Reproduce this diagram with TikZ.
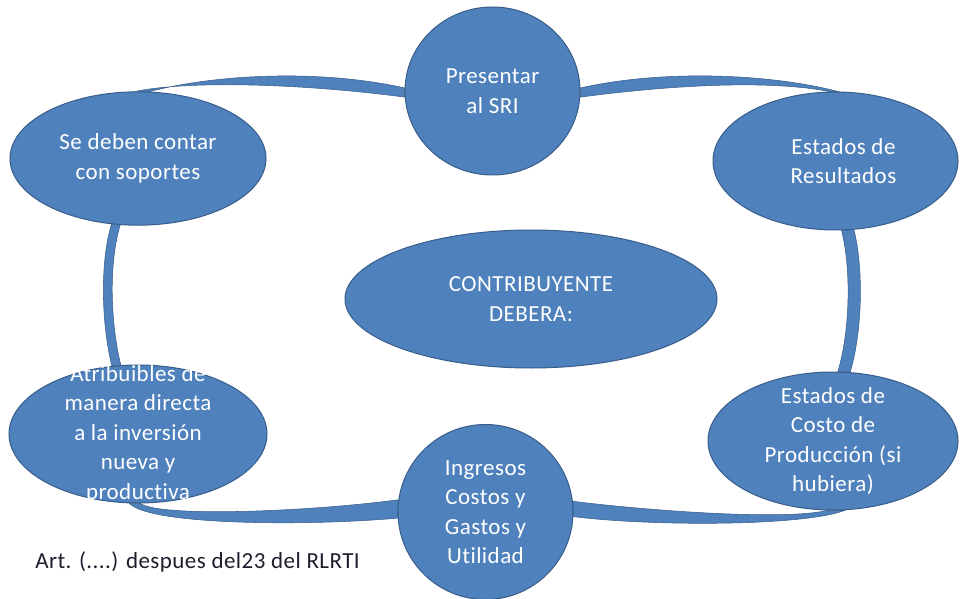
\documentclass[tikz,border=0pt]{standalone}
\usepackage{fontspec}
\setmainfont{Carlito}[LetterSpace=2, Ligatures={NoCommon}]
\usetikzlibrary{shapes.geometric,backgrounds}

\tikzset{every picture/.style={line width=0.75pt}}
\tikzset{
  bub/.style={ellipse, draw={rgb, 255:red, 56; green, 93; blue, 138}, fill={rgb, 255:red, 79; green, 129; blue, 189}, inner sep=0pt},
  lnk/.style={draw={rgb, 255:red, 56; green, 93; blue, 138}, fill={rgb, 255:red, 79; green, 129; blue, 189}},
  txt/.style={text=white, align=center, inner sep=0pt, font=\fontsize{17.25}{22.1}\selectfont},
}

\begin{document}
\begin{tikzpicture}[x=0.75pt,y=0.75pt,yscale=-1,xscale=1]
	\useasboundingbox (0,0) rectangle (960,599);

	%Shape: Ellipse [top]
	\node [bub, minimum width=131.25pt, minimum height=126pt] (pres) at (492.5,91) {};
	%Shape: Ellipse [top left]
	\node [bub, minimum width=192pt, minimum height=100pt] (sop) at (138,158.5) {};
	%Shape: Ellipse [top right]
	\node [bub, minimum width=183.75pt, minimum height=103.5pt] (res) at (835.5,161) {};
	%Shape: Ellipse [centre]
	\node [bub, minimum width=279pt, minimum height=103.5pt] (con) at (531,299) {};
	%Shape: Ellipse [bottom left]
	\node [bub, minimum width=193.5pt, minimum height=103.5pt] (atr) at (138,434) {};
	%Shape: Ellipse [bottom]
	\node [bub, minimum width=131.25pt, minimum height=131.25pt] (ing) at (485.5,512) {};
	%Shape: Ellipse [bottom right]
	\node [bub, minimum width=187.5pt, minimum height=103.5pt] (cost) at (833,441) {};

	\begin{pgfonlayer}{background}
	%Curve Lines [sop - pres]
	\draw [lnk] (sop.80) .. controls +(60,-16) and +(-90,-20) .. (pres.178) -- (pres.184) .. controls +(-90,-12) and +(60,-12) .. (sop.92) -- cycle ;
	%Curve Lines [pres - res]
	\draw [lnk] (pres.2) .. controls +(90,-20) and +(-60,-16) .. (res.88) -- (res.95) .. controls +(-60,-12) and +(90,-12) .. (pres.-4) -- cycle ;
	%Curve Lines [sop - atr]
	\draw [lnk] (sop.-112) .. controls +(-12,40) and +(-10,-40) .. (atr.111) -- (atr.104) .. controls +(-10,-40) and +(-12,40) .. (sop.-105) -- cycle ;
	%Curve Lines [res - cost]
	\draw [lnk] (res.-75) .. controls +(10,40) and +(12,-40) .. (cost.76) -- (cost.86) .. controls +(12,-40) and +(10,40) .. (res.-85) -- cycle ;
	%Curve Lines [atr - ing]
	\draw [lnk] (atr.-97) .. controls +(20,22) and +(-90,8) .. (ing.184) -- (ing.172) .. controls +(-90,12) and +(20,14) .. (atr.-88) -- cycle ;
	%Curve Lines [ing - cost]
	\draw [lnk] (ing.-3) .. controls +(80,10) and +(-40,16) .. (cost.-80) -- (cost.-95) .. controls +(-40,10) and +(80,10) .. (ing.7) -- cycle ;
	\end{pgfonlayer}

	% Text Node
	\node [txt] (pres-t) at (pres.center) {Presentar\\al SRI};
	% Text Node
	\node [txt] (sop-t) at (sop.center) {Se deben contar\\con soportes};
	% Text Node
	\node [txt, xshift=6pt] (res-t) at (res.center) {Estados de\\Resultados};
	% Text Node
	\node [txt] (con-t) at (con.center) {CONTRIBUYENTE\\DEBERA:};
	% Text Node
	\node [txt] (atr-t) at (atr.center) {Atribuibles de\\manera directa\\a la inversión\\nueva y\\productiva};
	% Text Node
	\node [txt] (ing-t) at (ing.center) {Ingresos\\Costos y\\Gastos y\\Utilidad};
	% Text Node
	\node [txt] (cost-t) at (cost.center) {Estados de\\Costo de\\Producción (si\\hubiera)};
	% Text Node
	\node [anchor=west, inner sep=0pt, font=\fontsize{17.25}{22.1}\selectfont, text={rgb, 255:red, 30; green, 30; blue, 45}] (art) at (35,562) {Art. (....) despues del23 del RLRTI};

\end{tikzpicture}
\end{document}
